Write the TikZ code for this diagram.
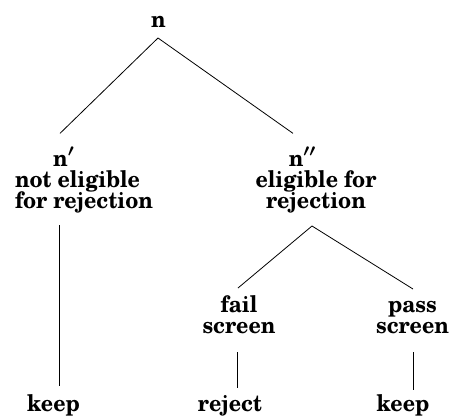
\documentclass[tikz,border=0pt]{standalone}
\usepackage{fontspec}
\setmainfont{texgyreschola}[Extension=.otf, UprightFont=*-regular, BoldFont=*-bold, ItalicFont=*-italic, BoldItalicFont=*-bolditalic, FakeStretch=0.93]
\usetikzlibrary{calc}
\lineskiplimit=-30pt
\newcommand\lstrut{\rule[-6pt]{0pt}{23pt}}
\tikzset{
  lbl/.style={font={\fontsize{23}{21}\selectfont\bfseries\boldmath\lineskiplimit=-30pt}, inner sep=0pt, outer sep=0pt},
  edge/.style={line width=0.8pt, black}
}
\begin{document}
\begin{tikzpicture}[x=1pt,y=-1pt]
\useasboundingbox (0,0) rectangle (455,418);
% nodes
\node[lbl, anchor=base] (n) at (158.5,27) {\lstrut n};
\node[lbl, anchor=base] (a) at (63.8,166) {\lstrut n$'$};
\node[lbl, anchor=north west, align=left] (adesc) at (15,170) {\lstrut not eligible\\\lstrut for rejection};
\node[lbl, anchor=base] (b) at (302.3,166) {\lstrut n$''$};
\node[lbl, anchor=north, align=center] (bdesc) at (316,170) {\lstrut eligible for\\\lstrut rejection};
\node[lbl, anchor=north, align=center] (fs) at (239,295) {\lstrut fail\\\lstrut screen};
\node[lbl, anchor=north, align=center] (ps) at (412.5,295) {\lstrut pass\\\lstrut screen};
\node[lbl, anchor=base] (k1) at (53.5,411) {\lstrut keep};
\node[lbl, anchor=base] (rj) at (230,411) {\lstrut reject};
\node[lbl, anchor=base] (k2) at (403,411) {\lstrut keep};
% connectors
\draw[edge] ([xshift=-0.5pt,yshift=-5pt]n.south) -- ([xshift=-3.8pt,yshift=14pt]a.north);
\draw[edge] ([xshift=-0.5pt,yshift=-5pt]n.south) -- ([xshift=-9.3pt,yshift=14pt]b.north);
\draw[edge] let \p1=(a.south), \p2=(adesc.south), \p3=(k1.north) in
  (\x1-4.8pt,\y2-11pt) -- (\x1-4.8pt,\y3+8pt);
\draw[edge] ([xshift=-4pt,yshift=-12pt]bdesc.south) -- ([xshift=-1pt,yshift=7pt]fs.north);
\draw[edge] ([xshift=-4pt,yshift=-12pt]bdesc.south) -- ([xshift=0.5pt,yshift=6pt]ps.north);
\draw[edge] let \p1=(fs.south), \p2=(rj.north) in
  (\x1-2pt,\y1-13pt) -- (\x1-2pt,\y2+6pt);
\draw[edge] let \p1=(ps.south), \p2=(k2.north) in
  (\x1+0.5pt,\y1-13pt) -- (\x1+0.5pt,\y2+4pt);
\end{tikzpicture}
\end{document}
